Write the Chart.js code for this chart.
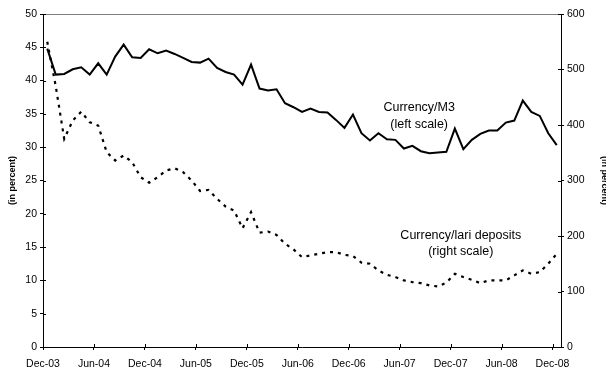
<!DOCTYPE html>
<html>
<head>
<meta charset="utf-8">
<script src="https://cdn.jsdelivr.net/npm/chart.js@4/dist/chart.umd.min.js"></script>
<style>
  html, body { margin: 0; padding: 0; background: #fff; }
</style>
</head>
<body>
<canvas id="chart" width="606" height="371"></canvas>
<script>
// month axis: one tick every six months, Dec-03 .. Dec-08
const tickLabels = ["Dec-03", "Jun-04", "Dec-04", "Jun-05", "Dec-05", "Jun-06",
                    "Dec-06", "Jun-07", "Dec-07", "Jun-08", "Dec-08"];

// Currency/M3, percent (left scale), monthly Dec-03 .. Dec-08
const currencyM3 = [44.8, 40.9, 41.0, 41.7, 42.0, 40.9, 42.6, 40.9, 43.6, 45.4,
                    43.5, 43.4, 44.7, 44.1, 44.5, 44.0, 43.4, 42.8, 42.7, 43.3,
                    41.9, 41.3, 40.9, 39.4, 42.4, 38.8, 38.5, 38.7, 36.6, 36.0,
                    35.3, 35.8, 35.3, 35.2, 34.1, 32.9, 34.9, 32.1, 31.0, 32.1,
                    31.2, 31.1, 29.8, 30.2, 29.4, 29.1, 29.2, 29.3, 32.8, 29.7,
                    31.1, 32.0, 32.5, 32.5, 33.7, 34.0, 37.0, 35.3, 34.7, 32.1, 30.3];

// Currency/lari deposits, percent (right scale)
const currencyLari = [550, 470, 375, 408, 424, 405, 399, 351, 336, 345,
                      333, 306, 296, 306, 318, 322, 315, 300, 281, 283,
                      267, 253, 246, 214, 243, 206, 208, 202, 186, 176,
                      162, 165, 168, 171, 171, 166, 164, 152, 150, 138,
                      130, 126, 120, 117, 115, 111, 109, 116, 132, 126,
                      121, 115, 120, 120, 120, 129, 138, 132, 135, 150, 168];

const FONT = "'Liberation Sans', Arial, sans-serif";

// monthly observations sit mid-month between the tick marks
const toPoints = arr => arr.map((v, i) => ({ x: i + 0.5, y: v }));

const extras = {
  id: "extras",
  afterDraw(chart) {
    const c = chart.ctx;
    const a = chart.chartArea;
    const x = chart.scales.x, yl = chart.scales.yLeft, yr = chart.scales.yRight;
    c.save();

    // thin grey frame line along the top of the plot
    c.strokeStyle = "#808080";
    c.lineWidth = 1;
    c.beginPath();
    c.moveTo(a.left, a.top + 0.5);
    c.lineTo(a.right, a.top + 0.5);
    c.stroke();

    // inner half of the cross tick marks
    c.strokeStyle = "#000";
    c.beginPath();
    yl.ticks.forEach(t => {
      const py = Math.round(yl.getPixelForValue(t.value)) + 0.5;
      c.moveTo(a.left, py); c.lineTo(a.left + 3, py);
    });
    yr.ticks.forEach(t => {
      const py = Math.round(yr.getPixelForValue(t.value)) + 0.5;
      c.moveTo(a.right - 3, py); c.lineTo(a.right, py);
    });
    x.ticks.forEach(t => {
      const px = Math.round(x.getPixelForValue(t.value)) + 0.5;
      c.moveTo(px, a.bottom); c.lineTo(px, a.bottom - 3);
    });
    c.stroke();

    // series labels
    c.fillStyle = "#000";
    c.font = "12.5px " + FONT;
    c.textAlign = "center";
    c.textBaseline = "middle";
    let px = x.getPixelForValue(44.3), py = yl.getPixelForValue(35.9);
    c.fillText("Currency/M3", px, py);
    c.fillText("(left scale)", px, py + 16.5);
    px = x.getPixelForValue(49.2); py = yr.getPixelForValue(201);
    c.fillText("Currency/lari deposits", px, py);
    c.fillText("(right scale)", px, py + 16.5);

    // axis titles
    c.font = "bold 9px " + FONT;
    const midY = (a.top + a.bottom) / 2;
    c.save();
    c.translate(12.5, midY);
    c.rotate(-Math.PI / 2);
    c.fillText("(in percent)", 0, 0);
    c.restore();
    c.save();
    c.translate(604.5, midY);
    c.rotate(Math.PI / 2);
    c.fillText("(in percent)", 0, 0);
    c.restore();

    c.restore();
  }
};

const tickFont = { family: FONT, size: 10.5 };

new Chart(document.getElementById("chart"), {
  type: "line",
  data: {
    datasets: [
      {
        label: "Currency/M3",
        data: toPoints(currencyM3),
        yAxisID: "yLeft",
        borderColor: "#000",
        borderWidth: 2,
        pointRadius: 0,
        tension: 0,
        fill: false
      },
      {
        label: "Currency/lari deposits",
        data: toPoints(currencyLari),
        yAxisID: "yRight",
        borderColor: "#000",
        borderWidth: 2.2,
        borderDash: [3, 5],
        pointRadius: 0,
        tension: 0,
        fill: false
      }
    ]
  },
  options: {
    responsive: false,
    animation: false,
    devicePixelRatio: 1,
    layout: { padding: { top: 14, left: 0, right: 0, bottom: 0 } },
    plugins: { legend: { display: false }, tooltip: { enabled: false } },
    scales: {
      x: {
        type: "linear",
        min: 0,
        max: 61,
        afterBuildTicks: s => { s.ticks = tickLabels.map((_, k) => ({ value: k * 6 })); },
        afterFit: s => { s.height = 24; },
        ticks: {
          callback: (v, i) => tickLabels[i],
          autoSkip: false,
          maxRotation: 0,
          color: "#000",
          font: tickFont,
          padding: 8
        },
        grid: { drawOnChartArea: false, tickLength: 3, color: "#000" },
        border: { color: "#000", width: 1 }
      },
      yLeft: {
        position: "left",
        min: 0,
        max: 50,
        afterFit: s => { s.width = 43; },
        ticks: { stepSize: 5, color: "#000", font: tickFont, padding: 3 },
        grid: { drawOnChartArea: false, tickLength: 3, color: "#000" },
        border: { color: "#000", width: 1 }
      },
      yRight: {
        position: "right",
        min: 0,
        max: 600,
        afterFit: s => { s.width = 45; },
        ticks: { stepSize: 100, color: "#000", font: tickFont, padding: 3 },
        grid: { drawOnChartArea: false, tickLength: 3, color: "#000" },
        border: { color: "#000", width: 1 }
      }
    }
  },
  plugins: [extras]
});
</script>
</body>
</html>
